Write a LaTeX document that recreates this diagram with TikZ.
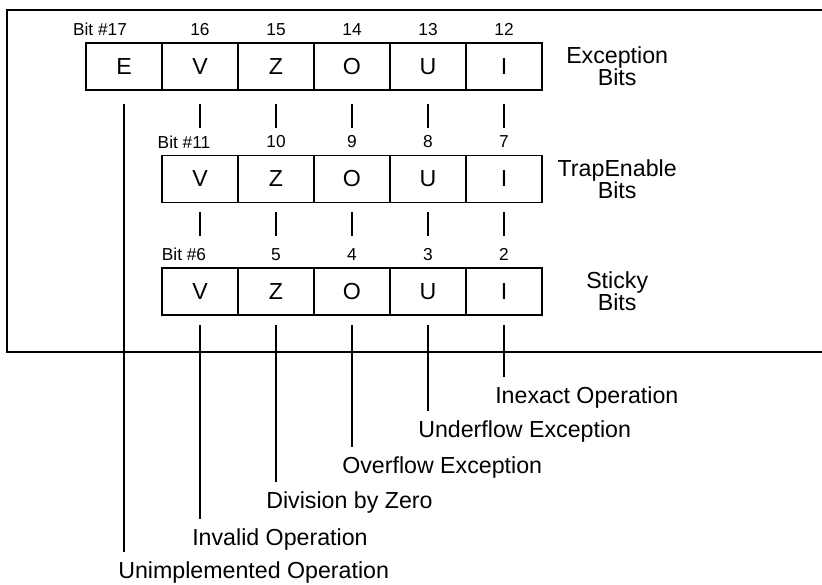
\documentclass[tikz,border=0pt]{standalone}
\usepackage{fontspec}
\setmainfont{Liberation Sans}
\usetikzlibrary{calc}

\begin{document}
\begin{tikzpicture}[x=1cm,y=1cm,
    bitbox/.style={draw, line width=1pt, minimum width=1.9cm, minimum height=1.175cm,
      inner sep=0pt, font=\fontsize{16.5}{16}\selectfont},
    bitnum/.style={inner sep=0pt, font=\fontsize{12.3}{13}\selectfont},
    rowname/.style={align=center, inner sep=0pt, font=\fontsize{16.5}{15.6}\selectfont},
    flagname/.style={anchor=west, inner sep=0pt, font=\fontsize{16.5}{16}\selectfont},
    tick/.style={line width=1pt}]
    \useasboundingbox (0,0) rectangle (20.55,14.6);

    % register frame, open on the right
    \draw[line width=1.4pt] (20.55,14.35) -- (0.175,14.35) -- (0.175,5.8) -- (20.55,5.8);

    % Rows: exception bits at y=12.94, trap enable at 10.13, sticky at 7.31.
    \node[bitbox] (e1) at (3.1,12.94) {E};
    \node[bitnum] (n17) at (2.5,13.86) {Bit \#17};

    \node[bitbox] (v1) at (5.0,12.94) {V};
    \node[bitbox] (v2) at (5.0,10.13) {V};
    \node[bitbox] (v3) at (5.0,7.31) {V};
    \node[bitnum] (n16) at (5.0,13.86) {16};
    \node[bitnum] (n11) at (4.6,11.05) {Bit \#11};
    \node[bitnum] (n6) at (4.6,8.24) {Bit \#6};
    \draw[tick, shorten <=0.325cm, shorten >=0.675cm] (v1.south) -- (v2.north);
    \draw[tick, shorten <=0.225cm, shorten >=0.775cm] (v2.south) -- (v3.north);

    \foreach \cname/\letter/\x/\numa/\numb/\numc in
      {z/Z/6.9/15/10/5, o/O/8.8/14/9/4, u/U/10.7/13/8/3, i/I/12.6/12/7/2} {
      \node[bitbox] (\cname1) at (\x,12.94) {\letter};
      \node[bitbox] (\cname2) at (\x,10.13) {\letter};
      \node[bitbox] (\cname3) at (\x,7.31) {\letter};
      \node[bitnum] (n\numa) at (\x,13.86) {\numa};
      \node[bitnum] (n\numb) at (\x,11.05) {\numb};
      \node[bitnum] (n\numc) at (\x,8.24) {\numc};
      \draw[tick, shorten <=0.325cm, shorten >=0.675cm] (\cname1.south) -- (\cname2.north);
      \draw[tick, shorten <=0.225cm, shorten >=0.775cm] (\cname2.south) -- (\cname3.north);
    }

    \node[rowname] (exc) at (15.43,12.94) {Exception\\Bits};
    \node[rowname] (trap) at (15.43,10.13) {TrapEnable\\Bits};
    \node[rowname] (sticky) at (15.43,7.31) {Sticky\\Bits};

    % flag descriptions, stepped down to the left
    \node[flagname] (inexact) at (12.375,4.65) {Inexact Operation};
    \node[flagname] (underflow) at (10.45,3.8) {Underflow Exception};
    \node[flagname] (overflow) at (8.55,2.9) {Overflow Exception};
    \node[flagname] (divzero) at (6.65,2.025) {Division by Zero};
    \node[flagname] (invalid) at (4.8,1.1) {Invalid Operation};
    \node[flagname] (unimpl) at (2.95,0.275) {Unimplemented Operation};

    \foreach \cname/\flag in {i/inexact, u/underflow, o/overflow, z/divzero, v/invalid}
      \draw[tick, shorten <=0.225cm, shorten >=0.24cm] (\cname3.south) -- (\cname3.south |- \flag.north);
    \draw[tick, shorten <=0.325cm, shorten >=0.24cm] (e1.south) -- (e1.south |- unimpl.north);
\end{tikzpicture}
\end{document}
